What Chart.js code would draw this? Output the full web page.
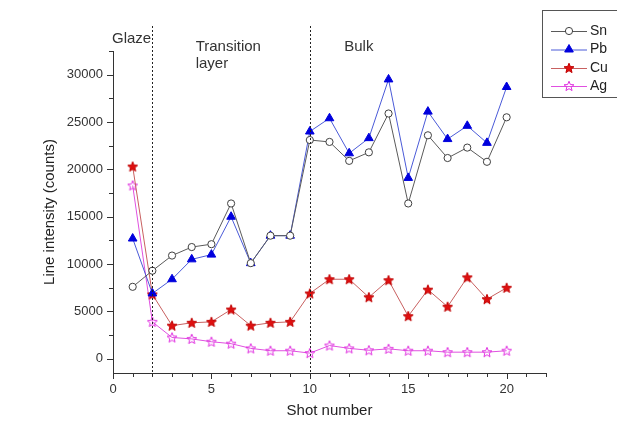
<!DOCTYPE html>
<html>
<head>
<meta charset="utf-8">
<script src="https://cdn.jsdelivr.net/npm/chart.js@4"></script>
<style>
  html, body { margin: 0; padding: 0; background: #fff; }
  #wrap { width: 617px; height: 421px; }
</style>
</head>
<body>
<div id="wrap"><canvas id="chart" width="617" height="421"></canvas></div>
<script>
// values
const shots = [1, 2, 3, 4, 5, 6, 7, 8, 9, 10, 11, 12, 13, 14, 15, 16, 17, 18, 19, 20];
const snValues = [7600, 9300, 10900, 11800, 12100, 16400, 10100, 13000, 13000, 23100, 22900, 20900, 21800, 25900, 16400, 23600, 21200, 22300, 20800, 25500];
const pbValues = [12700, 6900, 8400, 10500, 11000, 15000, 10100, 13000, 13000, 24000, 25400, 21700, 23300, 29500, 19100, 26100, 23200, 24600, 22800, 28700];
const cuValues = [20300, 6800, 3500, 3800, 3900, 5200, 3500, 3800, 3900, 6900, 8400, 8400, 6500, 8300, 4500, 7300, 5500, 8600, 6300, 7500];
const agValues = [18300, 3900, 2250, 2100, 1800, 1600, 1100, 850, 850, 600, 1400, 1100, 900, 1050, 850, 850, 700, 700, 700, 850];
const seriesNames = ['Sn', 'Pb', 'Cu', 'Ag'];
const regionBounds = [2, 10];
const xTickLabels = [0, 5, 10, 15, 20];
const yTickLabels = [0, 5000, 10000, 15000, 20000, 25000, 30000];

const FONT = '"Liberation Sans", Arial, sans-serif';

// star marker drawn on a small canvas, used as pointStyle
function makeStar(fill, stroke, filled) {
    const c = document.createElement('canvas');
    c.width = 12; c.height = 12;
    const g = c.getContext('2d');
    g.beginPath();
    for (let i = 0; i < 10; i++) {
        const r = i % 2 === 0 ? 5.2 : 2.3;
        const a = -Math.PI / 2 + i * Math.PI / 5;
        const px = 6 + r * Math.cos(a), py = 6.4 + r * Math.sin(a);
        if (i === 0) g.moveTo(px, py); else g.lineTo(px, py);
    }
    g.closePath();
    if (filled) { g.fillStyle = fill; g.fill(); }
    g.strokeStyle = stroke;
    g.lineWidth = 1;
    g.stroke();
    return c;
}
const cuStar = makeStar('#e01010', '#c00000', true);
const agStar = makeStar('#ffffff', '#e030e0', false);

function pts(values) {
    return shots.map((s, i) => ({ x: s, y: values[i] }));
}

const datasets = [
    {
        label: seriesNames[0], data: pts(snValues),
        borderColor: '#5a5a5a', borderWidth: 1,
        pointStyle: 'circle', pointRadius: 3.6,
        pointBackgroundColor: '#ffffff', pointBorderColor: '#404040', pointBorderWidth: 1
    },
    {
        label: seriesNames[1], data: pts(pbValues),
        borderColor: '#4a5ad8', borderWidth: 1,
        pointStyle: 'triangle', pointRadius: 5,
        pointBackgroundColor: '#0000dd', pointBorderColor: '#0000dd', pointBorderWidth: 1
    },
    {
        label: seriesNames[2], data: pts(cuValues),
        borderColor: '#c86060', borderWidth: 1,
        pointStyle: cuStar, pointRadius: 5
    },
    {
        label: seriesNames[3], data: pts(agValues),
        borderColor: '#e050e0', borderWidth: 1,
        pointStyle: agStar, pointRadius: 5
    }
];

// axis ticks, region lines, region names and the boxed legend
const decor = {
    id: 'decor',
    afterDraw(chart) {
        const ctx = chart.ctx;
        const xs = chart.scales.x, ys = chart.scales.y;
        const area = chart.chartArea;
        ctx.save();
        ctx.setLineDash([]);

        // tick marks
        ctx.fillStyle = '#333';
        for (let v = 0; v <= 22; v++) {
            const px = Math.round(xs.getPixelForValue(v));
            const len = v % 5 === 0 ? 6 : 4;
            ctx.fillRect(px, area.bottom, 1, len);
        }
        for (let v = 0; v <= 32500; v += 2500) {
            const py = Math.round(ys.getPixelForValue(v));
            const len = v % 5000 === 0 ? 6 : 4;
            ctx.fillRect(area.left - len, py, len, 1);
        }

        // dotted region boundaries
        ctx.strokeStyle = '#222';
        ctx.lineWidth = 1;
        ctx.setLineDash([2, 2]);
        ctx.beginPath();
        regionBounds.forEach(b => {
            const px = Math.round(xs.getPixelForValue(b)) + 0.5;
            ctx.moveTo(px, 26);
            ctx.lineTo(px, area.bottom + 4);
        });
        ctx.stroke();
        ctx.setLineDash([]);

        // region names
        ctx.fillStyle = '#333';
        ctx.font = '15px ' + FONT;
        ctx.textAlign = 'left';
        ctx.textBaseline = 'alphabetic';
        ctx.fillText('Glaze', xs.getPixelForValue(0) - 1, 43);
        ctx.fillText('Transition', xs.getPixelForValue(4.2), 51);
        ctx.fillText('layer', xs.getPixelForValue(4.2), 68);
        ctx.fillText('Bulk', xs.getPixelForValue(11.75), 51);

        // legend
        ctx.strokeStyle = '#555';
        ctx.strokeRect(542.5, 10.5, 120, 87);
        ctx.font = '14px ' + FONT;
        ctx.textBaseline = 'middle';
        const rows = [31, 49.5, 68, 86];
        chart.data.datasets.forEach((ds, i) => {
            const y = rows[i];
            ctx.strokeStyle = ds.borderColor;
            ctx.beginPath();
            ctx.moveTo(551, y + 0.5);
            ctx.lineTo(587, y + 0.5);
            ctx.stroke();
            if (ds.pointStyle instanceof HTMLCanvasElement) {
                ctx.drawImage(ds.pointStyle, 563, y - 6);
            } else {
                ctx.fillStyle = ds.pointBackgroundColor;
                ctx.strokeStyle = ds.pointBorderColor;
                Chart.helpers.drawPoint(ctx, {
                    pointStyle: ds.pointStyle, radius: ds.pointRadius, borderWidth: 1
                }, 569, y);
            }
            ctx.fillStyle = '#222';
            ctx.fillText(ds.label, 590, y);
        });
        ctx.restore();
    }
};

new Chart(document.getElementById('chart'), {
    type: 'line',
    data: { datasets: datasets },
    options: {
        responsive: false,
        animation: false,
        devicePixelRatio: 1,
        layout: { padding: { top: 51, right: 71, bottom: 0, left: 0 } },
        plugins: { legend: { display: false }, tooltip: { enabled: false } },
        elements: { line: { tension: 0 } },
        scales: {
            x: {
                type: 'linear', min: 0, max: 22,
                afterFit: s => { s.height = 48; },
                afterBuildTicks: s => { s.ticks = xTickLabels.map(v => ({ value: v })); },
                grid: { display: false, drawTicks: false },
                border: { display: true, color: '#333', width: 1 },
                ticks: { padding: 9, color: '#333', font: { family: FONT, size: 13 }, maxRotation: 0, callback: v => String(v) },
                title: { display: true, text: 'Shot number', color: '#222', padding: { top: 0, bottom: 1 }, font: { family: FONT, size: 15 } }
            },
            y: {
                type: 'linear', min: -1500, max: 32500,
                afterFit: s => { s.width = 113; },
                afterBuildTicks: s => { s.ticks = yTickLabels.map(v => ({ value: v })); },
                grid: { display: false, drawTicks: false },
                border: { display: true, color: '#333', width: 1 },
                ticks: { padding: 10, color: '#333', font: { family: FONT, size: 13 }, callback: v => String(v) },
                title: { display: true, text: 'Line intensity (counts)', color: '#222', padding: { top: 41, bottom: 0 }, font: { family: FONT, size: 15 } }
            }
        }
    },
    plugins: [decor]
});
</script>
</body>
</html>
